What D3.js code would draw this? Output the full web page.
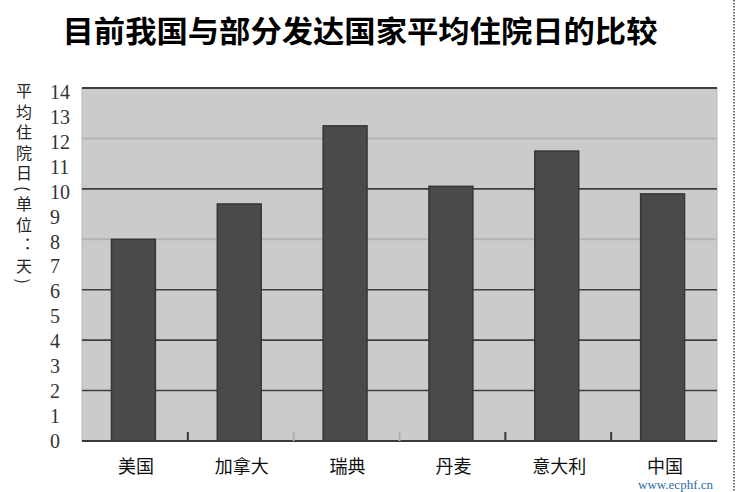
<!DOCTYPE html>
<html><head><meta charset="utf-8">
<script src="https://cdn.jsdelivr.net/npm/d3@7"></script>
<style>
html,body{margin:0;padding:0;background:#fff;}
svg{display:block;}
</style></head>
<body>
<script>
const categories = ["美国","加拿大","瑞典","丹麦","意大利","中国"];
const values = [8.0, 9.4, 12.5, 10.1, 11.5, 9.8];
const yTicks = [0,1,2,3,4,5,6,7,8,9,10,11,12,13,14];
const gridDark = [2,4,6,10,14];
const gridLight = [8,12];
const title = "目前我国与部分发达国家平均住院日的比较";
const yTitle = "平均住院日(单位：天)";
const watermark = "www.ecphf.cn";

(function(){
const W = 736, H = 492;
const pL = 82, pR = 717, pT = 88, pB = 441;

const svg = d3.select("body").append("svg").attr("width", W).attr("height", H);

const x = d3.scaleBand().domain(categories).range([pL, pR]).paddingInner(0.585).paddingOuter(0.2925);
const y = d3.scaleLinear().domain([0, 14]).range([pB, pT]);

svg.append("rect").attr("x", pL).attr("y", pT).attr("width", pR - pL).attr("height", pB - pT)
  .attr("fill", "#cbcbcb").attr("stroke", "#b8b8b8").attr("stroke-width", 1);

svg.append("g").selectAll("line").data(gridLight).join("line")
  .attr("x1", pL).attr("x2", pR).attr("y1", d => y(d)).attr("y2", d => y(d))
  .attr("stroke", "#b3b3b3").attr("stroke-width", 2);
svg.append("g").selectAll("line").data(gridDark).join("line")
  .attr("x1", pL).attr("x2", pR).attr("y1", d => y(d)).attr("y2", d => y(d))
  .attr("stroke", "#3e3e3e").attr("stroke-width", d => d === 14 ? 2 : 1.6);

svg.append("g").selectAll("rect").data(values).join("rect")
  .attr("x", (d, i) => x(categories[i]) - 1.5)
  .attr("width", x.bandwidth())
  .attr("y", d => y(d))
  .attr("height", d => y(0) - y(d))
  .attr("fill", "#4a4a4a").attr("stroke", "#363636").attr("stroke-width", 1.5);

svg.append("line").attr("x1", pL).attr("x2", pR).attr("y1", pB).attr("y2", pB)
  .attr("stroke", "#3a3a3a").attr("stroke-width", 2);

const bounds = categories.slice(1).map(c => x(c) - x.step() * x.paddingInner() / 2);
svg.append("g").selectAll("line").data(bounds).join("line")
  .attr("x1", d => d).attr("x2", d => d).attr("y1", pB - 9).attr("y2", pB)
  .attr("stroke", (d, i) => (i === 1 || i === 2) ? "#b0b0b0" : "#3a3a3a").attr("stroke-width", 2);

svg.append("g").selectAll("text").data(yTicks).join("text")
  .attr("x", 50).attr("y", d => y(d) + d * 0.28)
  .attr("dy", "0.35em")
  .attr("font-family", "Liberation Serif, DejaVu Serif, serif")
  .attr("font-size", 20).attr("fill", "#333")
  .text(d => d);

svg.append("g").selectAll("text").data(categories).join("text")
  .attr("x", d => x(d) + x.bandwidth() / 2 + 1).attr("y", 473)
  .attr("text-anchor", "middle")
  .attr("font-family", "Noto Sans CJK SC, sans-serif")
  .attr("font-size", 18).attr("fill", "#111")
  .text(d => d);

svg.append("text")
  .attr("x", 24).attr("y", 83)
  .attr("font-family", "Noto Sans CJK SC, serif")
  .attr("font-size", 16).attr("fill", "#222")
  .style("writing-mode", "vertical-rl")
  .style("letter-spacing", "4.6px")
  .text(yTitle);

svg.append("text")
  .attr("x", 360).attr("y", 42)
  .attr("text-anchor", "middle")
  .attr("font-family", "Noto Sans CJK SC, sans-serif")
  .attr("font-weight", "bold")
  .attr("font-size", 30).attr("fill", "#000")
  .attr("textLength", 595).attr("lengthAdjust", "spacingAndGlyphs")
  .text(title);

svg.append("text")
  .attr("x", 713).attr("y", 489)
  .attr("text-anchor", "end")
  .attr("font-family", "Liberation Serif, serif")
  .attr("font-size", 13).attr("fill", "#2f6aa8")
  .text(watermark);

svg.append("line").attr("x1", 734).attr("x2", 734).attr("y1", 0).attr("y2", H)
  .attr("stroke", "#444").attr("stroke-width", 1.5).attr("stroke-dasharray", "1.5,1.5");
})();
</script>
</body></html>
